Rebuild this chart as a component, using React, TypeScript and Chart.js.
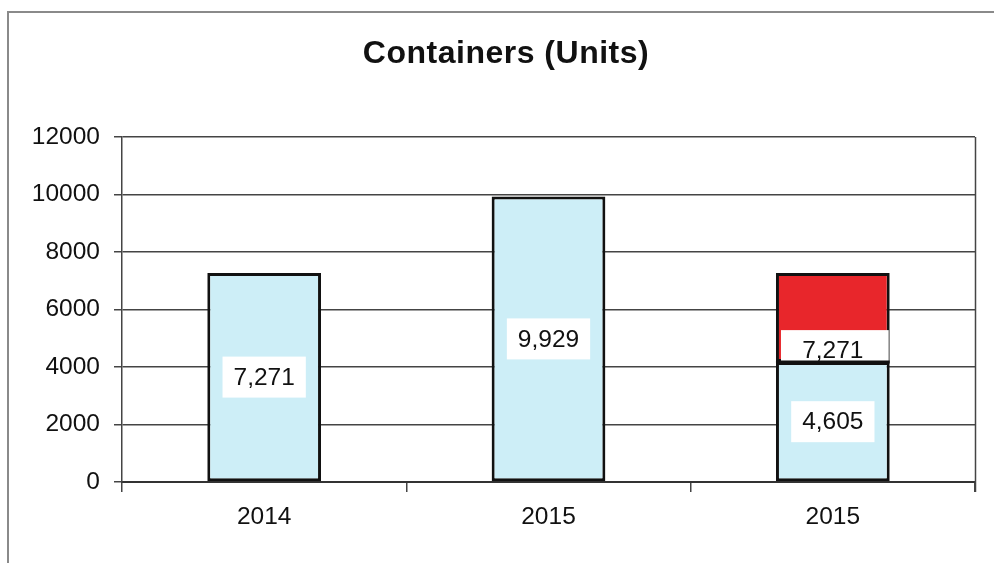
import React, { useEffect, useRef } from "react";
import { Chart, registerables } from "chart.js";

Chart.register(...registerables);

const categories = ["2014", "2015", "2015"];
const baseValues = [7271, 9929, 4170];
const topValues = [0, 0, 3101];
const baseLabels = ["7,271", "9,929", "4,605"];
const topLabels = ["", "", "7,271"];
const yTicks = [0, 2000, 4000, 6000, 8000, 10000, 12000];
const titleText = "Containers (Units)";

const FONT = "'Liberation Sans', Arial, sans-serif";

export default function App() {
  const ref = useRef<HTMLCanvasElement | null>(null);
  useEffect(() => {
    if (!ref.current) return;
    const decor = {
      id: "decor",
      beforeDraw(chart: any) {
        const ctx = chart.ctx;
        ctx.save();
        ctx.fillStyle = "#ffffff";
        ctx.fillRect(0, 0, chart.width, chart.height);
        ctx.strokeStyle = "#8a8a8a";
        ctx.lineWidth = 2;
        ctx.beginPath();
        ctx.moveTo(8, 563);
        ctx.lineTo(8, 12);
        ctx.lineTo(994, 12);
        ctx.stroke();
        ctx.fillStyle = "#111";
        ctx.font = `bold 32px ${FONT}`;
        try {
          (ctx as any).letterSpacing = "0.5px";
        } catch (e) {}
        ctx.textAlign = "center";
        ctx.textBaseline = "middle";
        ctx.fillText(titleText, 506, 54);
        ctx.restore();
      },
      afterDatasetsDraw(chart: any) {
        const ctx = chart.ctx;
        const ca = chart.chartArea;
        ctx.save();
        ctx.strokeStyle = "#444";
        ctx.lineWidth = 1.5;
        ctx.beginPath();
        ctx.moveTo(ca.right + 0.5, ca.top);
        ctx.lineTo(ca.right + 0.5, ca.bottom + 10);
        ctx.stroke();
        ctx.font = `24.5px ${FONT}`;
        ctx.textAlign = "center";
        ctx.textBaseline = "middle";
        const m0 = chart.getDatasetMeta(0);
        m0.data.forEach((bar: any, i: number) => {
          const t = baseLabels[i];
          if (!t) return;
          const cy = (bar.y + bar.base) / 2;
          const w = ctx.measureText(t).width + 22;
          const h = 41;
          ctx.fillStyle = "#ffffff";
          ctx.fillRect(bar.x - w / 2, cy - h / 2, w, h);
          ctx.fillStyle = "#111";
          ctx.fillText(t, bar.x, cy + 1);
        });
        const m1 = chart.getDatasetMeta(1);
        m1.data.forEach((bar: any, i: number) => {
          const t = topLabels[i];
          if (!t) return;
          const w = bar.width - 6;
          const h = 32;
          ctx.fillStyle = "#ffffff";
          ctx.fillRect(bar.x - w / 2 + 2, bar.base - h, w, h);
          ctx.fillStyle = "#111";
          ctx.fillText(t, bar.x, bar.base - h / 2 + 5);
          ctx.strokeStyle = "#111";
          ctx.lineWidth = 3;
          ctx.beginPath();
          ctx.moveTo(bar.x - bar.width / 2, bar.base);
          ctx.lineTo(bar.x + bar.width / 2, bar.base);
          ctx.stroke();
        });
        ctx.restore();
      },
    };
    const chart = new Chart(ref.current, {
      type: "bar",
      data: {
        labels: categories,
        datasets: [
          {
            data: baseValues,
            backgroundColor: "#cdeef7",
            borderColor: "#111",
            borderWidth: 3,
            borderSkipped: false,
            barPercentage: 0.4,
            categoryPercentage: 1,
          },
          {
            data: topValues,
            backgroundColor: "#e8262b",
            borderColor: "#111",
            borderWidth: 3,
            borderSkipped: false,
            barPercentage: 0.4,
            categoryPercentage: 1,
          },
        ],
      },
      options: {
        responsive: false,
        animation: false,
        layout: { padding: { left: 0, right: 19, top: 137, bottom: 0 } },
        plugins: {
          legend: { display: false },
          title: { display: false },
          tooltip: { enabled: false },
        },
        scales: {
          x: {
            stacked: true,
            grid: {
              offset: true,
              drawOnChartArea: false,
              drawTicks: true,
              tickLength: 10,
              color: "#444",
              lineWidth: 1.5,
            },
            border: { display: true, color: "#333", width: 2 },
            ticks: {
              color: "#111",
              font: { family: FONT, size: 24.5 },
              padding: 11,
            },
            afterFit(scale: any) {
              scale.height = 81;
            },
          },
          y: {
            stacked: true,
            min: 0,
            max: 12000,
            afterBuildTicks(scale: any) {
              scale.ticks = yTicks.map((v) => ({ value: v }));
            },
            grid: {
              color: "#444",
              lineWidth: 1.5,
              tickLength: 8,
            },
            border: { display: true, color: "#444", width: 1.5 },
            ticks: {
              color: "#111",
              font: { family: FONT, size: 24.5 },
              padding: 14,
              callback: (v: any) => String(v),
            },
            afterFit(scale: any) {
              scale.width = 122;
            },
          },
        },
      },
      plugins: [decor],
    });
    return () => chart.destroy();
  }, []);
  return (
    <div style={{ position: "fixed", left: 0, top: 0, width: 994, height: 563 }}>
      <canvas ref={ref} width={994} height={563} style={{ width: 994, height: 563 }} />
    </div>
  );
}
